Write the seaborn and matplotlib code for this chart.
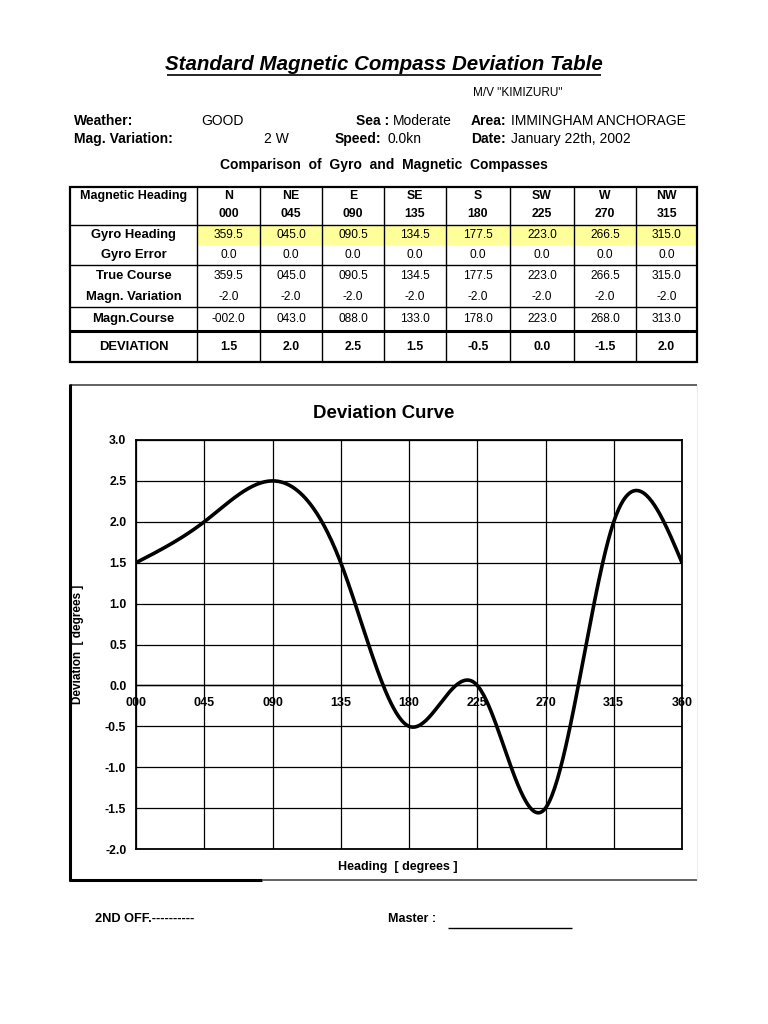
import numpy as np
import matplotlib
matplotlib.use("Agg")
import matplotlib.pyplot as plt
from matplotlib.lines import Line2D
from matplotlib.patches import Rectangle
import seaborn as sns

# ---------------- data ----------------
directions = ['N', 'NE', 'E', 'SE', 'S', 'SW', 'W', 'NW']
mag_heading = ['000', '045', '090', '135', '180', '225', '270', '315']
gyro_heading = ['359.5', '045.0', '090.5', '134.5', '177.5', '223.0', '266.5', '315.0']
gyro_error = ['0.0', '0.0', '0.0', '0.0', '0.0', '0.0', '0.0', '0.0']
true_course = ['359.5', '045.0', '090.5', '134.5', '177.5', '223.0', '266.5', '315.0']
magn_variation = ['-2.0', '-2.0', '-2.0', '-2.0', '-2.0', '-2.0', '-2.0', '-2.0']
magn_course = ['-002.0', '043.0', '088.0', '133.0', '178.0', '223.0', '268.0', '313.0']
deviation_tbl = ['1.5', '2.0', '2.5', '1.5', '-0.5', '0.0', '-1.5', '2.0']

chart_heading = [0, 45, 90, 135, 180, 225, 270, 315, 360]
chart_deviation = [1.5, 2.0, 2.5, 1.5, -0.5, 0.0, -1.5, 2.0, 1.5]
x_tick_labels = ['000', '045', '090', '135', '180', '225', '270', '315', '360']
y_ticks = [-2.0, -1.5, -1.0, -0.5, 0.0, 0.5, 1.0, 1.5, 2.0, 2.5, 3.0]

# ---------------- setup ----------------
sns.set_style('white')
plt.rcParams['font.family'] = ['Liberation Sans', 'DejaVu Sans']
plt.rcParams['text.color'] = 'black'
plt.rcParams['axes.labelcolor'] = 'black'
plt.rcParams['xtick.color'] = 'black'
plt.rcParams['ytick.color'] = 'black'

W, H = 768, 1024
fig = plt.figure(figsize=(W / 100, H / 100), dpi=100)
fig.patch.set_facecolor('white')


def fx(x):
    return x / W


def fy(y):
    return 1 - y / H


def txt(x, y, s, size=9, weight='normal', ha='left', va='center', **kw):
    return fig.text(fx(x), fy(y), s, fontsize=size, fontweight=weight,
                    ha=ha, va=va, color='black', **kw)


def hline(x0, x1, y, lw=1.0, color='black'):
    fig.add_artist(Line2D([fx(x0), fx(x1)], [fy(y), fy(y)], lw=lw, color=color,
                          transform=fig.transFigure, solid_capstyle='butt'))


def vline(x, y0, y1, lw=1.0, color='black'):
    fig.add_artist(Line2D([fx(x), fx(x)], [fy(y0), fy(y1)], lw=lw, color=color,
                          transform=fig.transFigure, solid_capstyle='butt'))


# ---------------- header ----------------
title = txt(384, 65, 'Standard Magnetic Compass Deviation Table', size=14.8,
            weight='bold', ha='center', style='italic')
txt(473, 93, 'M/V "KIMIZURU"', size=8.5)

HS = 10
txt(74, 121, 'Weather:', size=HS, weight='bold')
txt(201, 121, 'GOOD', size=HS)
txt(389, 121, 'Sea :', size=HS, weight='bold', ha='right')
txt(393, 121, 'Moderate', size=HS)
txt(471, 121, 'Area:', size=HS, weight='bold')
txt(511, 121, 'IMMINGHAM ANCHORAGE', size=HS)

txt(74, 139, 'Mag. Variation:', size=HS, weight='bold')
txt(289, 139, '2 W', size=HS, ha='right')
txt(335, 139, 'Speed:', size=HS, weight='bold')
txt(387, 139, '0.0kn', size=HS)
txt(471, 139, 'Date:', size=HS, weight='bold')
txt(511, 139, 'January 22th, 2002', size=HS)

txt(384, 165, 'Comparison  of  Gyro  and  Magnetic  Compasses', size=10,
    weight='bold', ha='center')

# ---------------- table ----------------
col_edges = [70, 197, 260, 322, 384, 446, 510, 574, 636, 697]
centers = [(col_edges[i] + col_edges[i + 1]) / 2 for i in range(1, 9)]
first_center = (col_edges[0] + col_edges[1]) / 2

fig.add_artist(Rectangle((fx(197), fy(245)), fx(697) - fx(197), fy(225) - fy(245),
                         transform=fig.transFigure, facecolor='#FFFF99',
                         edgecolor='none'))

txt(80, 196, 'Magnetic Heading', size=9, weight='bold')
for c, d, m in zip(centers, directions, mag_heading):
    txt(c, 196, d, size=8.8, weight='bold', ha='center')
    txt(c, 214, m, size=8.8, weight='bold', ha='center')

rows = [
    (235, 'Gyro Heading', gyro_heading, 'normal'),
    (255, 'Gyro Error', gyro_error, 'normal'),
    (276, 'True Course', true_course, 'normal'),
    (297, 'Magn. Variation', magn_variation, 'normal'),
    (319, 'Magn.Course', magn_course, 'normal'),
    (347, 'DEVIATION', deviation_tbl, 'bold'),
]
for y, lab, vals, wt in rows:
    txt(first_center, y, lab, size=9.4, weight='bold', ha='center')
    for c, v in zip(centers, vals):
        txt(c, y, v, size=8.8 if wt == 'bold' else 8.6, weight=wt, ha='center')

# table lines
for y in [225, 265, 307]:
    hline(70, 697, y, lw=1.0)
hline(70, 697, 331, lw=2.2)
for x in col_edges[1:-1]:
    vline(x, 187, 362, lw=1.0)
fig.add_artist(Rectangle((fx(70), fy(362)), fx(697) - fx(70), fy(187) - fy(362),
                         transform=fig.transFigure, facecolor='none',
                         edgecolor='black', lw=1.6))

# ---------------- chart frame ----------------
hline(70, 697, 385, lw=1.3, color='#555555')
vline(70, 384, 881, lw=2.2, color='black')
hline(69, 262, 880, lw=2.2, color='black')
hline(262, 697, 880, lw=1.3, color='#555555')
vline(697, 385, 880, lw=0.8, color='#eeeeee')

txt(384, 413, 'Deviation Curve', size=13.4, weight='bold', ha='center')

# ---------------- chart ----------------
ax = fig.add_axes([fx(136), fy(849), fx(682) - fx(136), fy(440) - fy(849)])
ax.set_facecolor('white')


def natural_spline(xs, ys, n=400):
    x = np.asarray(xs, float)
    y = np.asarray(ys, float)
    k = len(x)
    h = np.diff(x)
    A = np.zeros((k, k))
    b = np.zeros(k)
    A[0, 0] = 1
    A[-1, -1] = 1
    for i in range(1, k - 1):
        A[i, i - 1] = h[i - 1]
        A[i, i] = 2 * (h[i - 1] + h[i])
        A[i, i + 1] = h[i]
        b[i] = 6 * ((y[i + 1] - y[i]) / h[i] - (y[i] - y[i - 1]) / h[i - 1])
    M = np.linalg.solve(A, b)
    xx = np.linspace(x[0], x[-1], n)
    idx = np.clip(np.searchsorted(x, xx) - 1, 0, k - 2)
    x0, x1 = x[idx], x[idx + 1]
    hh = x1 - x0
    yy = (M[idx] * (x1 - xx) ** 3 / (6 * hh) + M[idx + 1] * (xx - x0) ** 3 / (6 * hh)
          + (y[idx] / hh - M[idx] * hh / 6) * (x1 - xx)
          + (y[idx + 1] / hh - M[idx + 1] * hh / 6) * (xx - x0))
    return xx, yy


sx, sy = natural_spline(chart_heading, chart_deviation)
sns.lineplot(x=sx, y=sy, sort=False, color='black', linewidth=2.6, ax=ax,
             zorder=5, estimator=None)

ax.spines['bottom'].set_position(('data', 0))
ax.set_xlim(0, 360)
ax.set_ylim(-2, 3)
ax.set_xticks(chart_heading)
ax.set_xticklabels(x_tick_labels, fontsize=9, fontweight='bold')
ax.set_yticks(y_ticks)
ax.set_yticklabels([f'{v:.1f}' for v in y_ticks], fontsize=8.8, fontweight='bold')
ax.grid(True, color='black', lw=0.9)
ax.set_axisbelow(True)
for s in ax.spines.values():
    s.set_color('black')
    s.set_linewidth(1.3)
ax.spines['bottom'].set_linewidth(1.0)
ax.axhline(-2, color='black', lw=1.3, clip_on=False, zorder=3)
ax.tick_params(axis='y', direction='out', length=5, width=1, color='black', pad=2)
ax.tick_params(axis='x', direction='inout', length=4, width=1, color='black', pad=6)

ax.set_ylabel('Deviation  [ degrees ]', fontsize=8.5, fontweight='bold', color='black')
ax.yaxis.set_label_coords((84 - 136) / 546, 0.5)
ax.set_xlabel('Heading  [ degrees ]', fontsize=9, fontweight='bold', color='black')
ax.xaxis.set_label_coords((398 - 136) / 546, (849 - 861) / 409)

# ---------------- footer ----------------
txt(95, 919, '2ND OFF.----------', size=9.2, weight='bold')
txt(388, 919, 'Master :', size=9, weight='bold')
hline(448, 572, 928, lw=1.0)

# underline title
fig.canvas.draw()
bb = title.get_window_extent()
hline(bb.x0 + 2, bb.x1 - 2, 75, lw=1.2)

fig.savefig('out.png', dpi=100, facecolor='white')
